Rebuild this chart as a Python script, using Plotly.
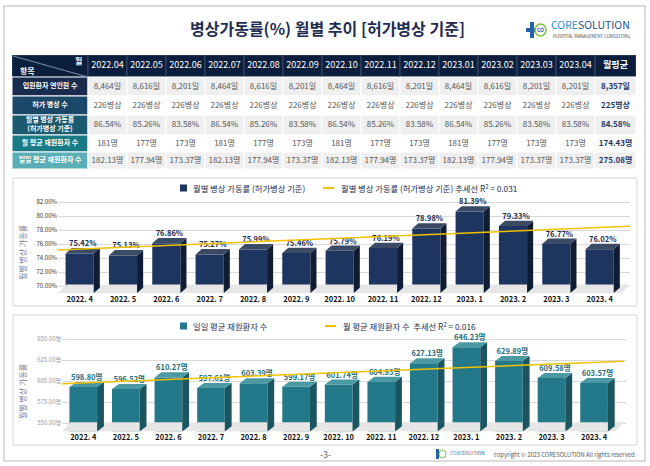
import numpy as np
import plotly.graph_objects as go

# ---- data -------------------------------------------------------------
months = ["2022.04", "2022.05", "2022.06", "2022.07", "2022.08", "2022.09", "2022.10",
          "2022.11", "2022.12", "2023.01", "2023.02", "2023.03", "2023.04"]
axis_labels = ["2022. 4", "2022. 5", "2022. 6", "2022. 7", "2022. 8", "2022. 9", "2022. 10",
               "2022. 11", "2022. 12", "2023. 1", "2023. 2", "2023. 3", "2023. 4"]
row_names = ["입원환자 연인원 수", "허가 병상 수", "월별 병상 가동률<br>(허가병상 기준)",
             "월 평균 재원환자 수", "일일 평균 재원환자 수"]
inpatient_days = [8464, 8616, 8201, 8464, 8616, 8201, 8464, 8616, 8201, 8464, 8616, 8201, 8201]
licensed_beds = [226, 226, 226, 226, 226, 226, 226, 226, 226, 226, 226, 226, 226]
occupancy_table = [86.54, 85.26, 83.58, 86.54, 85.26, 83.58, 86.54, 85.26, 83.58, 86.54, 85.26, 83.58, 83.58]
monthly_patients = [181, 177, 173, 181, 177, 173, 181, 177, 173, 181, 177, 173, 173]
daily_patients = [182.13, 177.94, 173.37, 182.13, 177.94, 173.37, 182.13, 177.94, 173.37,
                  182.13, 177.94, 173.37, 173.37]
avg_column = ["8,357일", "225병상", "84.58%", "174.43명", "275.08명"]

occupancy_rate = [75.42, 75.13, 76.86, 75.27, 75.99, 75.46, 75.79, 76.19, 78.98, 81.39, 79.33, 76.77, 76.02]
daily_census = [598.80, 596.52, 610.27, 597.61, 603.39, 599.17, 601.74, 604.93, 627.13, 646.23,
                629.89, 609.58, 603.57]

bar1_name = "월별 병상 가동률 (허가병상 기준)"
trend1_name = "월별 병상 가동률 (허가병상 기준) 추세선 R<sup>2</sup> = 0.031"
bar2_name = "일일 평균 재원환자 수"
trend2_name = "월 평균 재원환자 수  추세선 R<sup>2</sup> = 0.016"

FONT = "Noto Sans CJK KR"
W, H = 650, 466


def px(x):
    return x / W


def py(y):
    return 1 - y / H


fig = go.Figure()
shapes = []
ann = []

# ---- table (own hidden axes, units = pixels) ----------------------------
col_w = [76] + [39] * len(months) + [41]
row_h = [22, 19, 19, 20, 17, 17]
col_edges = np.concatenate([[0], np.cumsum(col_w)])
row_edges = np.concatenate([[0], np.cumsum(row_h)])

body = []
for i in range(len(months)):
    body.append([f"{inpatient_days[i]:,}일", f"{licensed_beds[i]}병상", f"{occupancy_table[i]:.2f}%",
                 f"{monthly_patients[i]}명", f"{daily_patients[i]:.2f}명"])

label_fill = ["#1a2c4e", "#1b4868", "#1b5a6e", "#1a7a85", "#5aaeb6"]
stripe = ["#efefef", "#ffffff", "#efefef", "#ffffff", "#efefef"]

tx, ty, tt, tc, ts = [], [], [], [], []
for c in range(len(col_w)):
    x0, x1 = col_edges[c], col_edges[c + 1]
    xc = (x0 + x1) / 2
    shapes.append(dict(type="rect", xref="x3", yref="y3", x0=x0, x1=x1, y0=row_edges[0], y1=row_edges[1],
                       fillcolor="#0c1e3e", line=dict(color="#3b4a66", width=1), layer="below"))
    if c > 0:
        tx.append(xc); ty.append(row_h[0] / 2)
        tt.append(months[c - 1] if c <= len(months) else "<b>월평균</b>")
        tc.append("#ffffff"); ts.append(9)
    for r in range(5):
        y0, y1 = row_edges[r + 1], row_edges[r + 2]
        if c == 0:
            fill, txt, col, size = label_fill[r], f"<b>{row_names[r]}</b>", "#ffffff", 7
        elif c <= len(months):
            fill, txt, col, size = stripe[r], body[c - 1][r], "#555555", 8
        else:
            fill, txt, col, size = stripe[r], f"<b>{avg_column[r]}</b>", "#1f3a68", 8
        shapes.append(dict(type="rect", xref="x3", yref="y3", x0=x0, x1=x1, y0=y0, y1=y1,
                           fillcolor=fill, line=dict(color="#ffffff", width=1), layer="below"))
        tx.append(xc); ty.append((y0 + y1) / 2); tt.append(txt); tc.append(col); ts.append(size)

fig.add_trace(go.Scatter(x=tx, y=ty, text=tt, mode="text", textposition="middle center",
                         textfont=dict(family=FONT, color=tc, size=ts), xaxis="x3", yaxis="y3",
                         showlegend=False, hoverinfo="skip", cliponaxis=False))


# ---- 3D-ish bars --------------------------------------------------------
def add_bars(values, base, dy, w, dx, front, top, side, xa, ya, name, fmt, lab_col):
    idx = np.arange(len(values))
    v = np.array(values)
    fig.add_trace(go.Bar(x=idx, y=v - dy - base, base=base, width=w, marker=dict(color=front, line=dict(width=0)),
                         xaxis=xa, yaxis=ya, name=name, showlegend=False, hoverinfo="skip"))
    sx, sy, tx_, ty_ = [], [], [], []
    for i, val in zip(idx, v):
        r = i + w / 2
        l = i - w / 2
        sx += [r, r + dx, r + dx, r, r, None]
        sy += [base, base + dy, val, val - dy, base, None]
        tx_ += [l, l + dx, r + dx, r, l, None]
        ty_ += [val - dy, val, val, val - dy, val - dy, None]
    fig.add_trace(go.Scatter(x=sx, y=sy, fill="toself", fillcolor=side, mode="none", xaxis=xa, yaxis=ya,
                             showlegend=False, hoverinfo="skip"))
    fig.add_trace(go.Scatter(x=tx_, y=ty_, fill="toself", fillcolor=top, mode="none", xaxis=xa, yaxis=ya,
                             showlegend=False, hoverinfo="skip"))
    fig.add_trace(go.Scatter(x=idx + dx / 2, y=v, mode="text", text=[fmt(t) for t in v],
                             textposition="top center", xaxis=xa, yaxis=ya, showlegend=False,
                             textfont=dict(family=FONT, size=7.5, color=lab_col, weight="bold"),
                             hoverinfo="skip", cliponaxis=False))


def add_trend(values, xa, ya, name, x0, x1):
    idx = np.arange(len(values))
    k, b = np.polyfit(idx, values, 1)
    xs = np.array([x0, x1])
    fig.add_trace(go.Scatter(x=xs, y=k * xs + b, mode="lines", line=dict(color="#f2c200", width=1.5),
                             xaxis=xa, yaxis=ya, name=name, showlegend=False, hoverinfo="skip",
                             cliponaxis=False))


def add_floor(xa, ya, x0, x1, y0, y1):
    fig.add_trace(go.Scatter(x=[x0, x1, x1 + 0.2, x0 + 0.2, x0], y=[y0, y0, y1, y1, y0], fill="toself",
                             fillcolor="#e6e6e6", mode="none", xaxis=xa, yaxis=ya, showlegend=False,
                             hoverinfo="skip"))


def add_legend(y, sq_x, bar_color, bar_text, line_x, line_text):
    shapes.append(dict(type="rect", xref="paper", yref="paper", x0=px(sq_x), x1=px(sq_x + 7),
                       y0=py(y + 3.5), y1=py(y - 3.5), fillcolor=bar_color, line=dict(width=0)))
    shapes.append(dict(type="line", xref="paper", yref="paper", x0=px(line_x), x1=px(line_x + 11),
                       y0=py(y), y1=py(y), line=dict(color="#f2c200", width=2)))
    ann.append(dict(x=px(sq_x + 11), y=py(y), xanchor="left", text=bar_text,
                    font=dict(family=FONT, size=8.3, color="#1d2d4f")))
    ann.append(dict(x=px(line_x + 16), y=py(y), xanchor="left", text=line_text,
                    font=dict(family=FONT, size=8.3, color="#1d2d4f")))


# chart 1
add_floor("x", "y", -0.5, 12.5, 69, 70.2)
add_bars(occupancy_rate, 69, 0.76, 0.65, 0.14, "#1e3560", "#3b4b66", "#101c33", "x", "y",
         bar1_name, lambda t: f"{t:.2f}%", "#1d2d4f")
add_trend(occupancy_rate, "x", "y", trend1_name, -0.62, 12.7)
add_legend(188, 180, "#1e3560", bar1_name, 323, trend1_name)

# chart 2
add_floor("x2", "y2", -0.5, 12.5, 540, 551)
add_bars(daily_census, 540, 6, 0.65, 0.16, "#23788a", "#4b9aa3", "#1b5660", "x2", "y2",
         bar2_name, lambda t: f"{t:.2f}명", "#1f6d7a")
add_trend(daily_census, "x2", "y2", trend2_name, -0.6, 12.7)
add_legend(326, 180, "#23788a", bar2_name, 325, trend2_name)

tick_x = dict(tickmode="array", tickvals=list(range(len(axis_labels))),
              ticktext=[f"<b>{t}</b>" for t in axis_labels], showgrid=False, zeroline=False,
              showline=False, ticks="", tickfont=dict(family=FONT, size=7.5, color="#111111"))

fig.update_layout(
    width=W, height=H, margin=dict(l=0, r=0, t=0, b=0),
    paper_bgcolor="white", plot_bgcolor="rgba(0,0,0,0)", barmode="overlay", showlegend=False,
    xaxis=dict(domain=[px(58), px(630)], range=[-0.5, 12.7], anchor="y", **tick_x),
    yaxis=dict(domain=[py(293), py(198.5)], range=[69, 82.5], anchor="x",
               tickvals=[70, 72, 74, 76, 78, 80, 82], ticktext=[f"{t:.2f}%" for t in range(70, 83, 2)],
               gridcolor="#d9d9d9", zeroline=False, showline=False,
               tickfont=dict(family=FONT, size=6, color="#333333")),
    xaxis2=dict(domain=[px(62), px(626)], range=[-0.5, 12.75], anchor="y2", **tick_x),
    yaxis2=dict(domain=[py(431.4), py(334.8)], range=[540, 655], anchor="x2",
                tickvals=[550, 575, 600, 625, 650], ticktext=[f"{t:.2f}명" for t in range(550, 651, 25)],
                gridcolor="#d9d9d9", zeroline=False, showline=False,
                tickfont=dict(family=FONT, size=6, color="#999999")),
    xaxis3=dict(domain=[px(12), px(12 + col_edges[-1])], range=[0, col_edges[-1]], anchor="y3",
                visible=False, fixedrange=True),
    yaxis3=dict(domain=[py(55 + row_edges[-1]), py(55)], range=[row_edges[-1], 0], anchor="x3",
                visible=False, fixedrange=True),
)

shapes += [
    dict(type="rect", xref="paper", yref="paper", x0=px(4), x1=px(645), y0=py(461), y1=py(6),
         line=dict(color="#d0d0d0", width=1.5)),
    dict(type="rect", xref="paper", yref="paper", x0=px(13), x1=px(637), y0=py(306), y1=py(178),
         line=dict(color="#d6d6d6", width=1), layer="below"),
    dict(type="rect", xref="paper", yref="paper", x0=px(13), x1=px(637), y0=py(445), y1=py(315),
         line=dict(color="#d6d6d6", width=1), layer="below"),
    dict(type="line", xref="paper", yref="paper", x0=px(13), x1=px(88), y0=py(56), y1=py(77),
         line=dict(color="#8090aa", width=1), layer="above"),
    # logo icon
    dict(type="rect", xref="paper", yref="paper", x0=px(530), x1=px(534), y0=py(38), y1=py(22),
         fillcolor="#2563a8", line=dict(width=0)),
    dict(type="rect", xref="paper", yref="paper", x0=px(526), x1=px(538), y0=py(32), y1=py(28),
         fillcolor="#2563a8", line=dict(width=0)),
    dict(type="circle", xref="paper", yref="paper", x0=px(535), x1=px(546), y0=py(36), y1=py(24),
         fillcolor="white", line=dict(color="#7cc242", width=1.5)),
    dict(type="rect", xref="paper", yref="paper", x0=px(436), x1=px(439), y0=py(459), y1=py(449),
         fillcolor="#2563a8", line=dict(width=0)),
    dict(type="circle", xref="paper", yref="paper", x0=px(439), x1=px(446), y0=py(458), y1=py(450),
         fillcolor="white", line=dict(color="#7cc242", width=1)),
]
fig.update_layout(shapes=shapes)

ann += [
    dict(x=px(327), y=py(28), text="<b>병상가동률(%) 월별 추이 [허가병상 기준]</b>",
         font=dict(family=FONT, size=16, color="#1f2d50")),
    dict(x=px(549), y=py(25), xanchor="left",
         text="<span style='color:#2a8fd6'>CORE</span><span style='color:#1f4e8c'>SOLUTION</span>",
         font=dict(family=FONT, size=10.5)),
    dict(x=px(551), y=py(35.5), xanchor="left", text="HOSPITAL MANAGEMENT CONSULTING",
         font=dict(family=FONT, size=4.3, color="#444444")),
    dict(x=px(540.5), y=py(30), text="<b>CO</b>", font=dict(family=FONT, size=5, color="#2563a8")),
    dict(x=px(18), y=py(70), xanchor="left", text="<b>항목</b>", font=dict(family=FONT, size=8, color="white")),
    dict(x=px(84), y=py(61), xanchor="right", text="<b>월</b>", font=dict(family=FONT, size=8, color="white")),
    dict(x=px(22), y=py(253), text="월별 병상 가동률", textangle=-90,
         font=dict(family=FONT, size=8, color="#6a7a9a")),
    dict(x=px(22), y=py(392), text="월별 병상 가동률", textangle=-90,
         font=dict(family=FONT, size=8, color="#6a7a9a")),
    dict(x=px(325), y=py(454), text="-3-", font=dict(family=FONT, size=9, color="#666666")),
    dict(x=px(448), y=py(453), xanchor="left",
         text="<span style='color:#2a8fd6'>CORE</span><span style='color:#1f4e8c'>SOLUTION</span>",
         font=dict(family=FONT, size=4.6)),
    dict(x=px(639), y=py(454), xanchor="right", text="copyright © 2023 CORESOLUTION All rights reserved.",
         font=dict(family=FONT, size=5.8, color="#555555")),
]
for a in ann:
    a.setdefault("xanchor", "center")
    a.update(xref="paper", yref="paper", showarrow=False, yanchor="middle")
fig.update_layout(annotations=ann)

fig.write_html("out.html", config={"displayModeBar": False},
               post_script="document.body.style.margin='0';")
